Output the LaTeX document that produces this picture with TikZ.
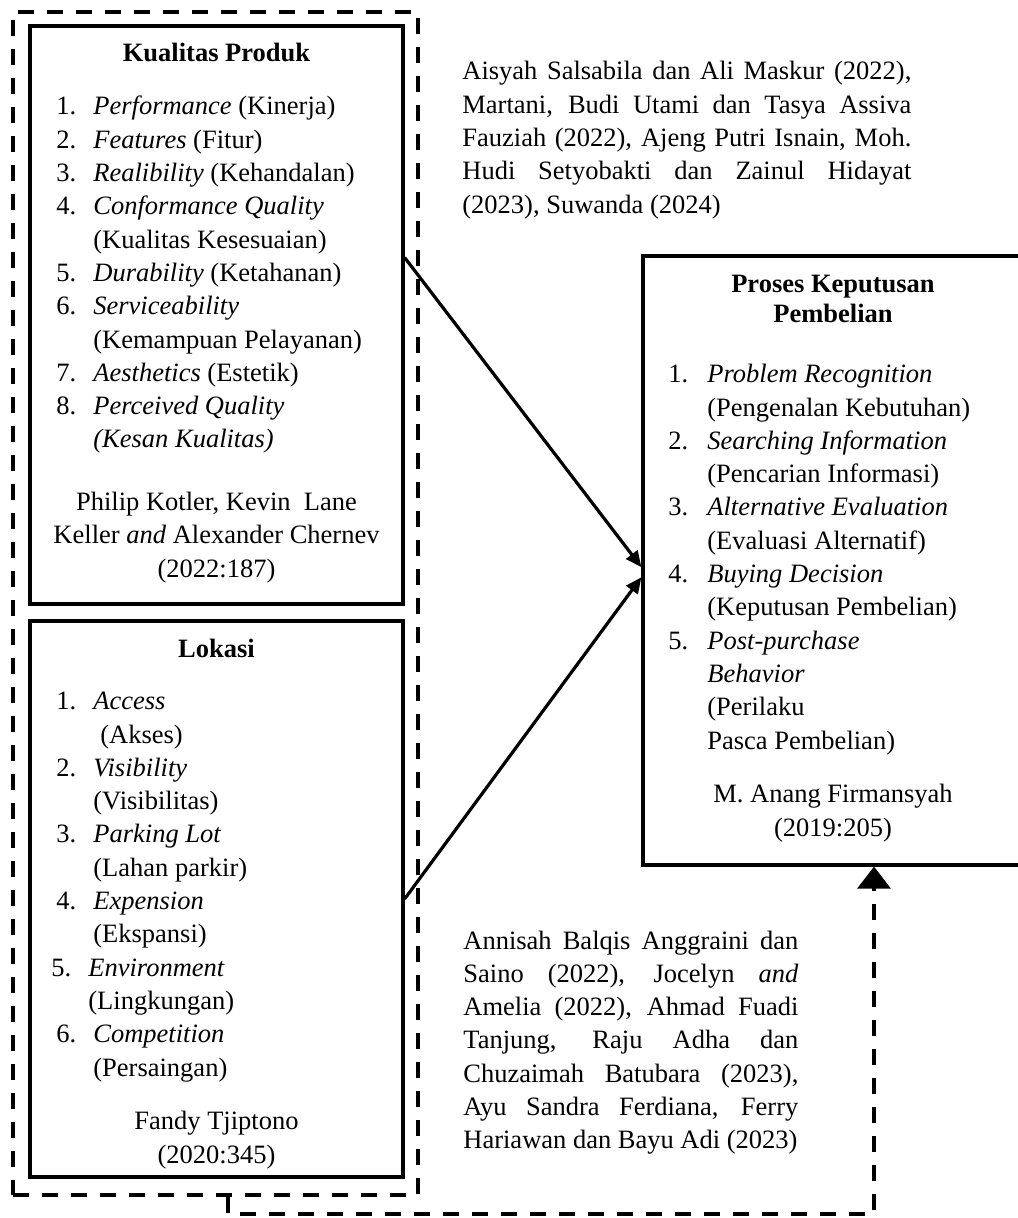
\documentclass[tikz,border=0pt]{standalone}
\usepackage{fontspec}
\setmainfont{Liberation Serif}
\usetikzlibrary{arrows.meta}
\newcommand{\nitem}[3]{\makebox[#1][l]{#2}#3}
\newcommand{\ncont}[2]{\hspace*{#1}#2}
\begin{document}
\begin{tikzpicture}[x=0.5pt,y=-0.5pt,
  box/.style={draw, line width=1.6pt, rectangle, inner sep=0pt},
  dashbox/.style={draw, line width=1.8pt, dash pattern=on 8pt off 6.5pt, rectangle, inner sep=0pt},
  txt/.style={inner sep=0pt, font=\fontsize{13.25}{16.65}\selectfont},
  list/.style={txt, anchor=base west, align=left},
  cite/.style={txt, anchor=base, align=center},
  head/.style={inner sep=0pt, anchor=base, align=center, font=\fontsize{13.25}{15}\selectfont\bfseries},
  para/.style={txt, anchor=base west, align=justify},
  arr/.style={line width=1.6pt, -{Triangle[length=8pt,width=7pt]}},
  darr/.style={line width=1.8pt, dash pattern=on 8pt off 6.5pt, -{Triangle[length=11pt,width=16.5pt]}}
]
\useasboundingbox (0,0) rectangle (1017,1218);

% boxes
\node[dashbox, minimum width=202.5pt, minimum height=591.5pt] (outer) at (215.5,603.5) {};
\node[box, minimum width=186.5pt, minimum height=289pt] (kp) at (216.5,315) {};
\node[box, minimum width=186.5pt, minimum height=278pt] (lok) at (216.5,899) {};
\node[box, minimum width=189.5pt, minimum height=304.5pt] (pk) at (832.5,560.5) {};

% Kualitas Produk (multi-line nodes: base = last line)
\node[head] (kptitle) at (216.5,62) {Kualitas Produk};
\node[list] (kplist) at (56,448) {%
\nitem{18.5pt}{1.}{\textit{Performance} (Kinerja)}\\
\nitem{18.5pt}{2.}{\textit{Features} (Fitur)}\\
\nitem{18.5pt}{3.}{\textit{Realibility} (Kehandalan)}\\
\nitem{18.5pt}{4.}{\textit{Conformance Quality}}\\
\ncont{18.5pt}{(Kualitas Kesesuaian)}\\
\nitem{18.5pt}{5.}{\textit{Durability} (Ketahanan)}\\
\nitem{18.5pt}{6.}{\textit{Serviceability}}\\
\ncont{18.5pt}{(Kemampuan Pelayanan)}\\
\nitem{18.5pt}{7.}{\textit{Aesthetics} (Estetik)}\\
\nitem{18.5pt}{8.}{\textit{Perceived Quality}}\\
\ncont{18.5pt}{\textit{(Kesan Kualitas)}}};
\node[cite] (kpcite) at (216.5,577) {Philip Kotler, Kevin\ \ Lane\\Keller \textit{and} Alexander Chernev\\(2022:187)};

% Lokasi
\node[head] (loktitle) at (216.5,657) {Lokasi};
\node[list] (loklist) at (56,1076) {%
\nitem{18.5pt}{1.}{\textit{Access}}\\
\ncont{22pt}{(Akses)}\\
\nitem{18.5pt}{2.}{\textit{Visibility}}\\
\ncont{18.5pt}{(Visibilitas)}\\
\nitem{18.5pt}{3.}{\textit{Parking Lot}}\\
\ncont{18.5pt}{(Lahan parkir)}\\
\nitem{18.5pt}{4.}{\textit{Expension}}\\
\ncont{18.5pt}{(Ekspansi)}\\
\hspace*{-2.5pt}\nitem{18.5pt}{5.}{\textit{Environment}}\\
\ncont{16pt}{(Lingkungan)}\\
\nitem{18.5pt}{6.}{\textit{Competition}}\\
\ncont{18.5pt}{(Persaingan)}};
\node[cite] (lokcite) at (216.5,1163) {Fandy Tjiptono\\(2020:345)};

% Proses Keputusan Pembelian
\node[head] (pktitle) at (833,323) {Proses Keputusan\\Pembelian};
\node[list] (pklist) at (668,749) {%
\nitem{19.5pt}{1.}{\textit{Problem Recognition}}\\
\ncont{19.5pt}{(Pengenalan Kebutuhan)}\\
\nitem{19.5pt}{2.}{\textit{Searching Information}}\\
\ncont{19.5pt}{(Pencarian Informasi)}\\
\nitem{19.5pt}{3.}{\textit{Alternative Evaluation}}\\
\ncont{19.5pt}{(Evaluasi Alternatif)}\\
\nitem{19.5pt}{4.}{\textit{Buying Decision}}\\
\ncont{19.5pt}{(Keputusan Pembelian)}\\
\nitem{19.5pt}{5.}{\textit{Post-purchase}}\\
\ncont{19.5pt}{\textit{Behavior}}\\
\ncont{19.5pt}{(Perilaku}\\
\ncont{19.5pt}{Pasca Pembelian)}};
\node[cite] (pkcite) at (833,836) {M. Anang Firmansyah\\(2019:205)};

% citation paragraphs (text width nodes: base = first line)
\node[para, text width=224.5pt] (cit1) at (462,80) {\tolerance=10000
Aisyah Salsabila dan Ali Maskur (2022),\linebreak
Martani, Budi Utami dan Tasya Assiva\linebreak
Fauziah (2022), Ajeng Putri Isnain, Moh.\linebreak
Hudi Setyobakti dan Zainul Hidayat\linebreak
(2023), Suwanda (2024)};
\node[para, text width=167.5pt] (cit2) at (463,949) {\tolerance=10000
Annisah Balqis Anggraini dan\linebreak
Saino (2022), Jocelyn \textit{and}\linebreak
Amelia (2022), Ahmad Fuadi\linebreak
Tanjung, Raju Adha dan\linebreak
Chuzaimah Batubara (2023),\linebreak
Ayu Sandra Ferdiana, Ferry\linebreak
Hariawan dan Bayu Adi (2023)};

% connectors
\draw[arr] (kp.17.3) -- (pk.182.3);
\draw[arr] (lok.east) -- (pk.185.3);
\coordinate (dl) at (228,1214);
\coordinate (dr) at (874,1214);
\draw[darr] (outer.south -| dl) -- (dl) -- (dr) -- (pk.south -| dr);
\end{tikzpicture}
\end{document}
